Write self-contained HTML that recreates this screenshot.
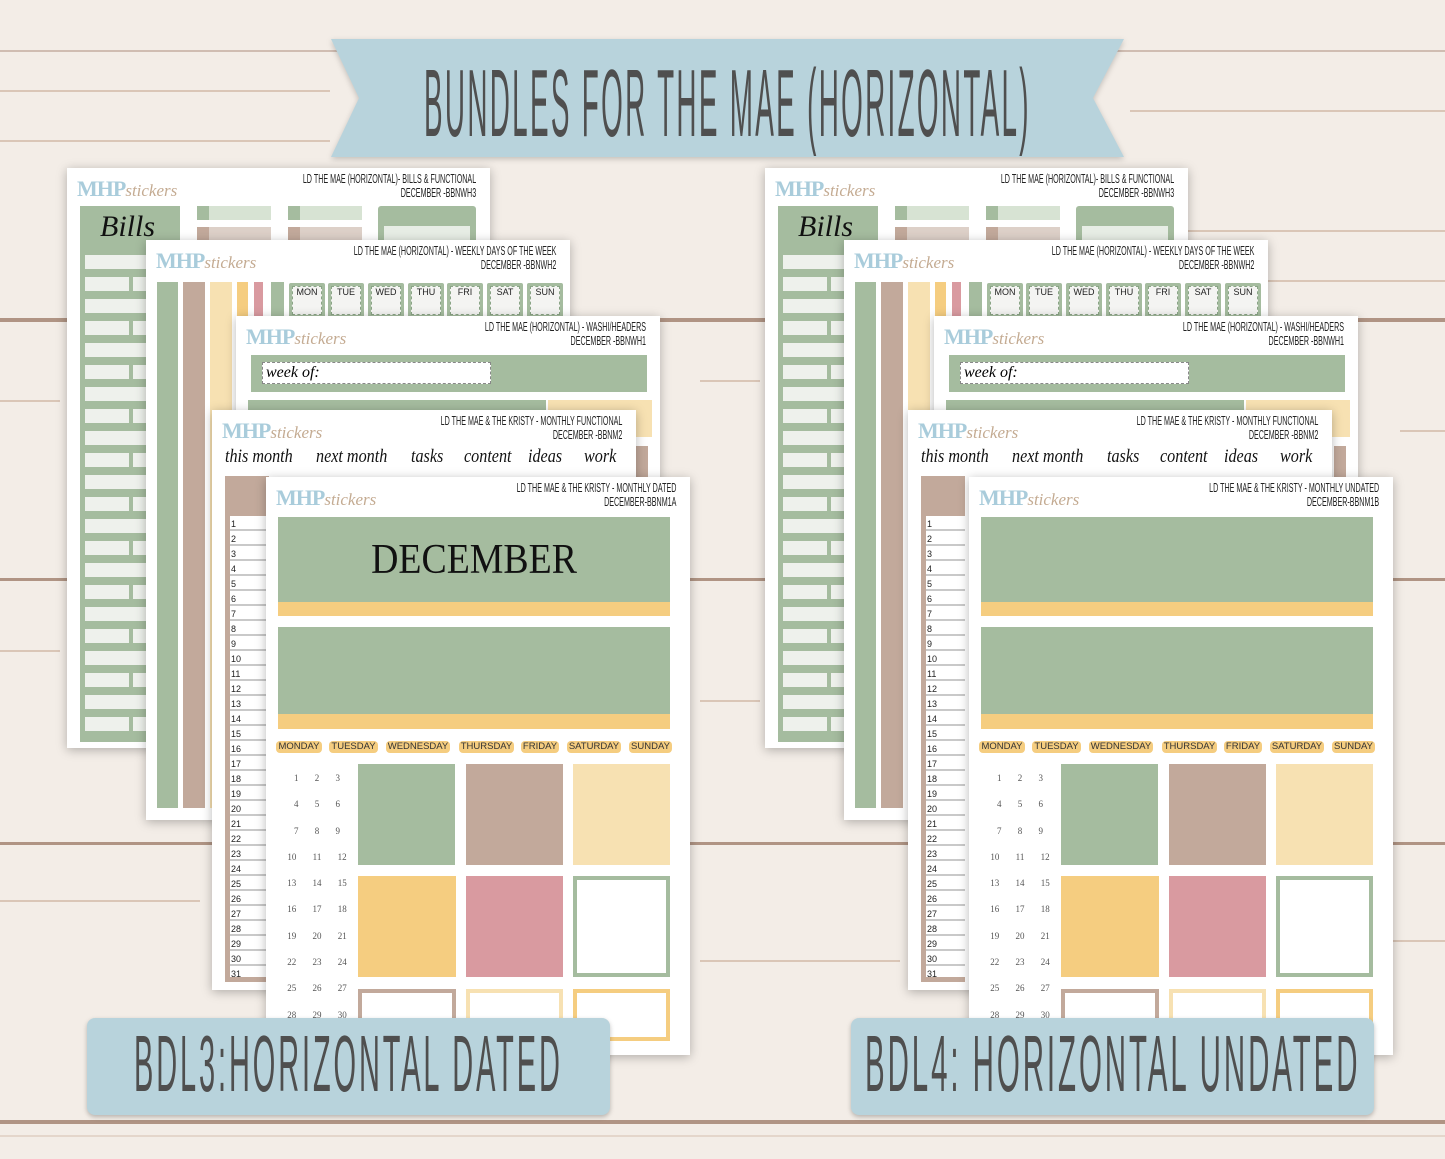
<!DOCTYPE html>
<html><head><meta charset="utf-8">
<style>
*{margin:0;padding:0;box-sizing:border-box}
body{width:1445px;height:1159px;overflow:hidden;position:relative;background:#f3ede7;font-family:"Liberation Sans",sans-serif}
.a{position:absolute}
.plank{position:absolute;left:0;width:1445px;height:4px;background:#9a7663;opacity:.75}
.grain{position:absolute;height:2px;background:#c9ab98;opacity:.6}
.sheet{position:absolute;background:#fff;box-shadow:0 2px 10px rgba(0,0,0,.28)}
.hdr{position:absolute;right:14px;top:4px;text-align:right;font-size:13px;line-height:14px;color:#222;transform:scaleX(.55);transform-origin:right top;white-space:nowrap}
.logo{position:absolute;left:10px;top:8px;white-space:nowrap}
.logo b{font-family:"Liberation Serif",serif;font-size:22px;color:#a9ccdb;letter-spacing:-1px}
.logo i{font-family:"Liberation Serif",serif;font-size:17px;color:#c4ab92}
.g{background:#a5bc9f}.t{background:#c2a99b}.ly{background:#f7e1b2}.y{background:#f5cd80}.p{background:#d99aa0}
.wb{position:absolute;background:#eef1ec}
.day{position:absolute;top:741px;height:12px;background:#f5cd80;border-radius:4px;font-size:9.5px;line-height:12px;color:#333;text-align:center}
.tab{position:absolute;top:283px;width:36px;height:35px;background:#a5bc9f;border-radius:2px}
.tab span{position:absolute;left:3px;top:3px;width:30px;height:29px;background:#f4f4f2;font-size:9px;text-align:center;line-height:11px;color:#222;border:1px dashed #8aa586}
.big{position:absolute;color:#4f4f4f;white-space:nowrap;transform-origin:left top;letter-spacing:8px}
.w{position:absolute;top:36px;font-family:"Liberation Serif",serif;font-style:italic;font-size:19px;white-space:nowrap;color:#111;transform:scaleX(.85);transform-origin:left top}
</style></head><body>

<div class="plank" style="top:50px;height:2px;opacity:.4"></div>
<div class="plank" style="top:318px"></div>
<div class="plank" style="top:578px;height:3px"></div>
<div class="plank" style="top:842px;height:3px"></div>
<div class="plank" style="top:1120px;height:4px"></div>
<div class="grain" style="left:0;top:90px;width:330px"></div>
<div class="grain" style="left:1130px;top:110px;width:315px"></div>
<div class="grain" style="left:0;top:140px;width:330px"></div>
<div class="grain" style="left:1130px;top:230px;width:315px"></div>
<div class="grain" style="left:1200px;top:280px;width:245px"></div>
<div class="grain" style="left:0;top:400px;width:60px"></div>
<div class="grain" style="left:700px;top:380px;width:60px"></div>
<div class="grain" style="left:1400px;top:430px;width:45px"></div>
<div class="grain" style="left:0;top:650px;width:60px"></div>
<div class="grain" style="left:700px;top:700px;width:60px"></div>
<div class="grain" style="left:0;top:900px;width:200px"></div>
<div class="grain" style="left:700px;top:960px;width:200px"></div>
<div class="grain" style="left:1380px;top:940px;width:65px"></div>
<div class="grain" style="left:0;top:1135px;width:1445px;opacity:.35"></div>

<svg class="a" style="left:0;top:0" width="1445" height="170">
<polygon points="331,39 1124,39 1093,98 1124,157 331,157 359,98" fill="#b8d3dc" style="filter:drop-shadow(0 2px 3px rgba(0,0,0,.2))"/>
</svg>
<div class="big" style="left:424px;top:56px;font-size:96px;line-height:96px;transform:scaleX(.29)">BUNDLES FOR THE MAE (HORIZONTAL)</div>

<!-- GROUP (left) -->
<div class="a" style="left:0;top:0;width:1445px;height:1159px">
 <div class="sheet" style="left:67px;top:168px;width:423px;height:580px">
  <div class="logo"><b>MHP</b><i>stickers</i></div>
  <div class="hdr">LD THE MAE (HORIZONTAL)- BILLS &amp; FUNCTIONAL<br>DECEMBER -BBNWH3</div>
 </div>
 <div class="a g" style="left:80px;top:206px;width:100px;height:536px"></div>
 <div class="a" style="left:100px;top:210px;font-family:'Liberation Serif',serif;font-style:italic;font-size:30px;color:#111">Bills</div>
 <div class="a g" style="left:197px;top:206px;width:12px;height:14px"></div><div class="a" style="left:209px;top:206px;width:62px;height:14px;background:#d7e3d3"></div>
 <div class="a t" style="left:197px;top:227px;width:12px;height:14px"></div><div class="a" style="left:209px;top:227px;width:62px;height:14px;background:#ddd0c8"></div>
 <div class="a g" style="left:288px;top:206px;width:12px;height:14px"></div><div class="a" style="left:300px;top:206px;width:62px;height:14px;background:#d7e3d3"></div>
 <div class="a t" style="left:288px;top:227px;width:12px;height:14px"></div><div class="a" style="left:300px;top:227px;width:62px;height:14px;background:#ddd0c8"></div>
 <div class="a g" style="left:378px;top:206px;width:98px;height:40px;border-radius:3px"></div>
 <div class="a" style="left:384px;top:226px;width:86px;height:16px;background:#e7ede5"></div>
 <div class="wb" style="left:85px;top:255px;width:95px;height:14px"></div><div class="wb" style="left:85px;top:277px;width:44px;height:14px"></div><div class="wb" style="left:133px;top:277px;width:47px;height:14px"></div>
 <div class="wb" style="left:85px;top:299px;width:95px;height:14px"></div><div class="wb" style="left:85px;top:321px;width:44px;height:14px"></div><div class="wb" style="left:133px;top:321px;width:47px;height:14px"></div>
 <div class="wb" style="left:85px;top:343px;width:95px;height:14px"></div><div class="wb" style="left:85px;top:365px;width:44px;height:14px"></div><div class="wb" style="left:133px;top:365px;width:47px;height:14px"></div>
 <div class="wb" style="left:85px;top:387px;width:95px;height:14px"></div><div class="wb" style="left:85px;top:409px;width:44px;height:14px"></div><div class="wb" style="left:133px;top:409px;width:47px;height:14px"></div>
 <div class="wb" style="left:85px;top:431px;width:95px;height:14px"></div><div class="wb" style="left:85px;top:453px;width:44px;height:14px"></div><div class="wb" style="left:133px;top:453px;width:47px;height:14px"></div>
 <div class="wb" style="left:85px;top:475px;width:95px;height:14px"></div><div class="wb" style="left:85px;top:497px;width:44px;height:14px"></div><div class="wb" style="left:133px;top:497px;width:47px;height:14px"></div>
 <div class="wb" style="left:85px;top:519px;width:95px;height:14px"></div><div class="wb" style="left:85px;top:541px;width:44px;height:14px"></div><div class="wb" style="left:133px;top:541px;width:47px;height:14px"></div>
 <div class="wb" style="left:85px;top:563px;width:95px;height:14px"></div><div class="wb" style="left:85px;top:585px;width:44px;height:14px"></div><div class="wb" style="left:133px;top:585px;width:47px;height:14px"></div>
 <div class="wb" style="left:85px;top:607px;width:95px;height:14px"></div><div class="wb" style="left:85px;top:629px;width:44px;height:14px"></div><div class="wb" style="left:133px;top:629px;width:47px;height:14px"></div>
 <div class="wb" style="left:85px;top:651px;width:95px;height:14px"></div><div class="wb" style="left:85px;top:673px;width:44px;height:14px"></div><div class="wb" style="left:133px;top:673px;width:47px;height:14px"></div>
 <div class="wb" style="left:85px;top:695px;width:95px;height:14px"></div><div class="wb" style="left:85px;top:717px;width:44px;height:14px"></div><div class="wb" style="left:133px;top:717px;width:47px;height:14px"></div>

 <div class="sheet" style="left:146px;top:240px;width:424px;height:580px">
  <div class="logo"><b>MHP</b><i>stickers</i></div>
  <div class="hdr">LD THE MAE (HORIZONTAL) - WEEKLY DAYS OF THE WEEK<br>DECEMBER -BBNWH2</div>
 </div>
 <div class="a g" style="left:157px;top:282px;width:21px;height:526px"></div>
 <div class="a t" style="left:183px;top:282px;width:22px;height:526px"></div>
 <div class="a ly" style="left:210px;top:282px;width:22px;height:526px"></div>
 <div class="a y" style="left:237px;top:282px;width:11px;height:526px"></div>
 <div class="a p" style="left:254px;top:282px;width:9px;height:526px"></div>
 <div class="a g" style="left:271px;top:282px;width:13px;height:526px"></div>
 <div class="tab" style="left:289px"><span>MON</span></div>
 <div class="tab" style="left:328px"><span>TUE</span></div>
 <div class="tab" style="left:368px"><span>WED</span></div>
 <div class="tab" style="left:408px"><span>THU</span></div>
 <div class="tab" style="left:447px"><span>FRI</span></div>
 <div class="tab" style="left:487px"><span>SAT</span></div>
 <div class="tab" style="left:527px"><span>SUN</span></div>

 <div class="sheet" style="left:236px;top:316px;width:424px;height:570px">
  <div class="logo"><b>MHP</b><i>stickers</i></div>
  <div class="hdr">LD THE MAE (HORIZONTAL) - WASHI/HEADERS<br>DECEMBER -BBNWH1</div>
 </div>
 <div class="a g" style="left:251px;top:355px;width:396px;height:37px"></div>
 <div class="a" style="left:262px;top:362px;width:229px;height:22px;background:#fff;border:1px dashed #888;font-family:'Liberation Serif',serif;font-style:italic;font-size:16px;line-height:20px;padding-left:3px">week of:</div>
 <div class="a g" style="left:248px;top:400px;width:298px;height:12px"></div>
 <div class="a ly" style="left:548px;top:400px;width:104px;height:37px"></div>
 <div class="a t" style="left:636px;top:446px;width:12px;height:60px"></div>

 <div class="sheet" style="left:212px;top:410px;width:424px;height:580px">
  <div class="logo"><b>MHP</b><i>stickers</i></div>
  <div class="hdr">LD THE MAE &amp; THE KRISTY - MONTHLY FUNCTIONAL<br>DECEMBER -BBNM2</div>
  <div class="w" style="left:13px">this month</div>
  <div class="w" style="left:104px">next month</div>
  <div class="w" style="left:199px">tasks</div>
  <div class="w" style="left:252px">content</div>
  <div class="w" style="left:316px">ideas</div>
  <div class="w" style="left:372px">work</div>
 </div>
 <div class="a t" style="left:225px;top:476px;width:44px;height:506px"></div>
 <div class="a" style="left:230px;top:516px;width:39px;height:461px;background:repeating-linear-gradient(#fff 0 13px,#c9c9c9 13px 15px)"></div>
 <div class="a" style="left:231px;top:517px;font-size:9px;line-height:15px;color:#222">1<br>2<br>3<br>4<br>5<br>6<br>7<br>8<br>9<br>10<br>11<br>12<br>13<br>14<br>15<br>16<br>17<br>18<br>19<br>20<br>21<br>22<br>23<br>24<br>25<br>26<br>27<br>28<br>29<br>30<br>31</div>

 <div class="sheet" style="left:266px;top:477px;width:424px;height:578px">
  <div class="logo"><b>MHP</b><i>stickers</i></div>
  <div class="hdr">LD THE MAE &amp; THE KRISTY - MONTHLY DATED<br>DECEMBER-BBNM1A</div>
 </div>
 <div class="a g" style="left:278px;top:517px;width:392px;height:86px"></div>
 <div class="a" style="left:278px;top:536px;width:392px;text-align:center;font-family:'Liberation Serif',serif;font-size:42px;color:#111;transform:scaleX(.9)">DECEMBER</div>
 <div class="a y" style="left:278px;top:602px;width:392px;height:14px"></div>
 <div class="a g" style="left:278px;top:627px;width:392px;height:87px"></div>
 <div class="a y" style="left:278px;top:714px;width:392px;height:15px"></div>
 <div class="day" style="left:276px;width:46px">MONDAY</div>
 <div class="day" style="left:329px;width:49px">TUESDAY</div>
 <div class="day" style="left:386px;width:64px">WEDNESDAY</div>
 <div class="day" style="left:459px;width:55px">THURSDAY</div>
 <div class="day" style="left:521px;width:38px">FRIDAY</div>
 <div class="day" style="left:567px;width:54px">SATURDAY</div>
 <div class="day" style="left:629px;width:43px">SUNDAY</div>
 <div class="a" style="left:277px;top:765px;width:80px;font-family:'Liberation Serif',serif;font-size:9px;line-height:26.3px;color:#555;text-align:center;word-spacing:14px">1 2 3<br>4 5 6<br>7 8 9<br>10 11 12<br>13 14 15<br>16 17 18<br>19 20 21<br>22 23 24<br>25 26 27<br>28 29 30</div>
 <div class="a g" style="left:358px;top:764px;width:97px;height:101px"></div>
 <div class="a t" style="left:466px;top:764px;width:97px;height:101px"></div>
 <div class="a ly" style="left:573px;top:764px;width:97px;height:101px"></div>
 <div class="a y" style="left:358px;top:876px;width:98px;height:101px"></div>
 <div class="a p" style="left:466px;top:876px;width:97px;height:101px"></div>
 <div class="a" style="left:573px;top:876px;width:97px;height:101px;border:4px solid #a5bc9f"></div>
 <div class="a" style="left:358px;top:989px;width:98px;height:52px;border:4px solid #c2a99b"></div>
 <div class="a" style="left:466px;top:989px;width:97px;height:52px;border:4px solid #f7e1b2"></div>
 <div class="a" style="left:573px;top:989px;width:97px;height:52px;border:4px solid #f5cd80"></div>
</div>

<!-- GROUP (right) -->
<div class="a" style="left:698px;top:0;width:747px;height:1159px">
 <div class="sheet" style="left:67px;top:168px;width:423px;height:580px">
  <div class="logo"><b>MHP</b><i>stickers</i></div>
  <div class="hdr">LD THE MAE (HORIZONTAL)- BILLS &amp; FUNCTIONAL<br>DECEMBER -BBNWH3</div>
 </div>
 <div class="a g" style="left:80px;top:206px;width:100px;height:536px"></div>
 <div class="a" style="left:100px;top:210px;font-family:'Liberation Serif',serif;font-style:italic;font-size:30px;color:#111">Bills</div>
 <div class="a g" style="left:197px;top:206px;width:12px;height:14px"></div><div class="a" style="left:209px;top:206px;width:62px;height:14px;background:#d7e3d3"></div>
 <div class="a t" style="left:197px;top:227px;width:12px;height:14px"></div><div class="a" style="left:209px;top:227px;width:62px;height:14px;background:#ddd0c8"></div>
 <div class="a g" style="left:288px;top:206px;width:12px;height:14px"></div><div class="a" style="left:300px;top:206px;width:62px;height:14px;background:#d7e3d3"></div>
 <div class="a t" style="left:288px;top:227px;width:12px;height:14px"></div><div class="a" style="left:300px;top:227px;width:62px;height:14px;background:#ddd0c8"></div>
 <div class="a g" style="left:378px;top:206px;width:98px;height:40px;border-radius:3px"></div>
 <div class="a" style="left:384px;top:226px;width:86px;height:16px;background:#e7ede5"></div>
 <div class="wb" style="left:85px;top:255px;width:95px;height:14px"></div><div class="wb" style="left:85px;top:277px;width:44px;height:14px"></div><div class="wb" style="left:133px;top:277px;width:47px;height:14px"></div>
 <div class="wb" style="left:85px;top:299px;width:95px;height:14px"></div><div class="wb" style="left:85px;top:321px;width:44px;height:14px"></div><div class="wb" style="left:133px;top:321px;width:47px;height:14px"></div>
 <div class="wb" style="left:85px;top:343px;width:95px;height:14px"></div><div class="wb" style="left:85px;top:365px;width:44px;height:14px"></div><div class="wb" style="left:133px;top:365px;width:47px;height:14px"></div>
 <div class="wb" style="left:85px;top:387px;width:95px;height:14px"></div><div class="wb" style="left:85px;top:409px;width:44px;height:14px"></div><div class="wb" style="left:133px;top:409px;width:47px;height:14px"></div>
 <div class="wb" style="left:85px;top:431px;width:95px;height:14px"></div><div class="wb" style="left:85px;top:453px;width:44px;height:14px"></div><div class="wb" style="left:133px;top:453px;width:47px;height:14px"></div>
 <div class="wb" style="left:85px;top:475px;width:95px;height:14px"></div><div class="wb" style="left:85px;top:497px;width:44px;height:14px"></div><div class="wb" style="left:133px;top:497px;width:47px;height:14px"></div>
 <div class="wb" style="left:85px;top:519px;width:95px;height:14px"></div><div class="wb" style="left:85px;top:541px;width:44px;height:14px"></div><div class="wb" style="left:133px;top:541px;width:47px;height:14px"></div>
 <div class="wb" style="left:85px;top:563px;width:95px;height:14px"></div><div class="wb" style="left:85px;top:585px;width:44px;height:14px"></div><div class="wb" style="left:133px;top:585px;width:47px;height:14px"></div>
 <div class="wb" style="left:85px;top:607px;width:95px;height:14px"></div><div class="wb" style="left:85px;top:629px;width:44px;height:14px"></div><div class="wb" style="left:133px;top:629px;width:47px;height:14px"></div>
 <div class="wb" style="left:85px;top:651px;width:95px;height:14px"></div><div class="wb" style="left:85px;top:673px;width:44px;height:14px"></div><div class="wb" style="left:133px;top:673px;width:47px;height:14px"></div>
 <div class="wb" style="left:85px;top:695px;width:95px;height:14px"></div><div class="wb" style="left:85px;top:717px;width:44px;height:14px"></div><div class="wb" style="left:133px;top:717px;width:47px;height:14px"></div>

 <div class="sheet" style="left:146px;top:240px;width:424px;height:580px">
  <div class="logo"><b>MHP</b><i>stickers</i></div>
  <div class="hdr">LD THE MAE (HORIZONTAL) - WEEKLY DAYS OF THE WEEK<br>DECEMBER -BBNWH2</div>
 </div>
 <div class="a g" style="left:157px;top:282px;width:21px;height:526px"></div>
 <div class="a t" style="left:183px;top:282px;width:22px;height:526px"></div>
 <div class="a ly" style="left:210px;top:282px;width:22px;height:526px"></div>
 <div class="a y" style="left:237px;top:282px;width:11px;height:526px"></div>
 <div class="a p" style="left:254px;top:282px;width:9px;height:526px"></div>
 <div class="a g" style="left:271px;top:282px;width:13px;height:526px"></div>
 <div class="tab" style="left:289px"><span>MON</span></div>
 <div class="tab" style="left:328px"><span>TUE</span></div>
 <div class="tab" style="left:368px"><span>WED</span></div>
 <div class="tab" style="left:408px"><span>THU</span></div>
 <div class="tab" style="left:447px"><span>FRI</span></div>
 <div class="tab" style="left:487px"><span>SAT</span></div>
 <div class="tab" style="left:527px"><span>SUN</span></div>

 <div class="sheet" style="left:236px;top:316px;width:424px;height:570px">
  <div class="logo"><b>MHP</b><i>stickers</i></div>
  <div class="hdr">LD THE MAE (HORIZONTAL) - WASHI/HEADERS<br>DECEMBER -BBNWH1</div>
 </div>
 <div class="a g" style="left:251px;top:355px;width:396px;height:37px"></div>
 <div class="a" style="left:262px;top:362px;width:229px;height:22px;background:#fff;border:1px dashed #888;font-family:'Liberation Serif',serif;font-style:italic;font-size:16px;line-height:20px;padding-left:3px">week of:</div>
 <div class="a g" style="left:248px;top:400px;width:298px;height:12px"></div>
 <div class="a ly" style="left:548px;top:400px;width:104px;height:37px"></div>
 <div class="a t" style="left:636px;top:446px;width:12px;height:60px"></div>

 <div class="sheet" style="left:210px;top:410px;width:424px;height:580px">
  <div class="logo"><b>MHP</b><i>stickers</i></div>
  <div class="hdr">LD THE MAE &amp; THE KRISTY - MONTHLY FUNCTIONAL<br>DECEMBER -BBNM2</div>
  <div class="w" style="left:13px">this month</div>
  <div class="w" style="left:104px">next month</div>
  <div class="w" style="left:199px">tasks</div>
  <div class="w" style="left:252px">content</div>
  <div class="w" style="left:316px">ideas</div>
  <div class="w" style="left:372px">work</div>
 </div>
 <div class="a t" style="left:223px;top:476px;width:44px;height:506px"></div>
 <div class="a" style="left:228px;top:516px;width:39px;height:461px;background:repeating-linear-gradient(#fff 0 13px,#c9c9c9 13px 15px)"></div>
 <div class="a" style="left:229px;top:517px;font-size:9px;line-height:15px;color:#222">1<br>2<br>3<br>4<br>5<br>6<br>7<br>8<br>9<br>10<br>11<br>12<br>13<br>14<br>15<br>16<br>17<br>18<br>19<br>20<br>21<br>22<br>23<br>24<br>25<br>26<br>27<br>28<br>29<br>30<br>31</div>

 <div class="sheet" style="left:271px;top:477px;width:424px;height:578px">
  <div class="logo"><b>MHP</b><i>stickers</i></div>
  <div class="hdr">LD THE MAE &amp; THE KRISTY - MONTHLY UNDATED<br>DECEMBER-BBNM1B</div>
 </div>
 <div class="a g" style="left:283px;top:517px;width:392px;height:86px"></div>
 <div class="a y" style="left:283px;top:602px;width:392px;height:14px"></div>
 <div class="a g" style="left:283px;top:627px;width:392px;height:87px"></div>
 <div class="a y" style="left:283px;top:714px;width:392px;height:15px"></div>
 <div class="day" style="left:281px;width:46px">MONDAY</div>
 <div class="day" style="left:334px;width:49px">TUESDAY</div>
 <div class="day" style="left:391px;width:64px">WEDNESDAY</div>
 <div class="day" style="left:464px;width:55px">THURSDAY</div>
 <div class="day" style="left:526px;width:38px">FRIDAY</div>
 <div class="day" style="left:572px;width:54px">SATURDAY</div>
 <div class="day" style="left:634px;width:43px">SUNDAY</div>
 <div class="a" style="left:282px;top:765px;width:80px;font-family:'Liberation Serif',serif;font-size:9px;line-height:26.3px;color:#555;text-align:center;word-spacing:14px">1 2 3<br>4 5 6<br>7 8 9<br>10 11 12<br>13 14 15<br>16 17 18<br>19 20 21<br>22 23 24<br>25 26 27<br>28 29 30</div>
 <div class="a g" style="left:363px;top:764px;width:97px;height:101px"></div>
 <div class="a t" style="left:471px;top:764px;width:97px;height:101px"></div>
 <div class="a ly" style="left:578px;top:764px;width:97px;height:101px"></div>
 <div class="a y" style="left:363px;top:876px;width:98px;height:101px"></div>
 <div class="a p" style="left:471px;top:876px;width:97px;height:101px"></div>
 <div class="a" style="left:578px;top:876px;width:97px;height:101px;border:4px solid #a5bc9f"></div>
 <div class="a" style="left:363px;top:989px;width:98px;height:52px;border:4px solid #c2a99b"></div>
 <div class="a" style="left:471px;top:989px;width:97px;height:52px;border:4px solid #f7e1b2"></div>
 <div class="a" style="left:578px;top:989px;width:97px;height:52px;border:4px solid #f5cd80"></div>
</div>

<div class="a" style="left:87px;top:1018px;width:523px;height:97px;background:#b8d3dc;border-radius:8px;box-shadow:0 2px 5px rgba(0,0,0,.25)"></div>
<div class="big" style="left:134px;top:1024px;font-size:80px;line-height:80px;transform:scaleX(.362)">BDL3:HORIZONTAL DATED</div>
<div class="a" style="left:851px;top:1018px;width:523px;height:97px;background:#b8d3dc;border-radius:8px;box-shadow:0 2px 5px rgba(0,0,0,.25)"></div>
<div class="big" style="left:865px;top:1024px;font-size:80px;line-height:80px;transform:scaleX(.368)">BDL4: HORIZONTAL UNDATED</div>
</body></html>
